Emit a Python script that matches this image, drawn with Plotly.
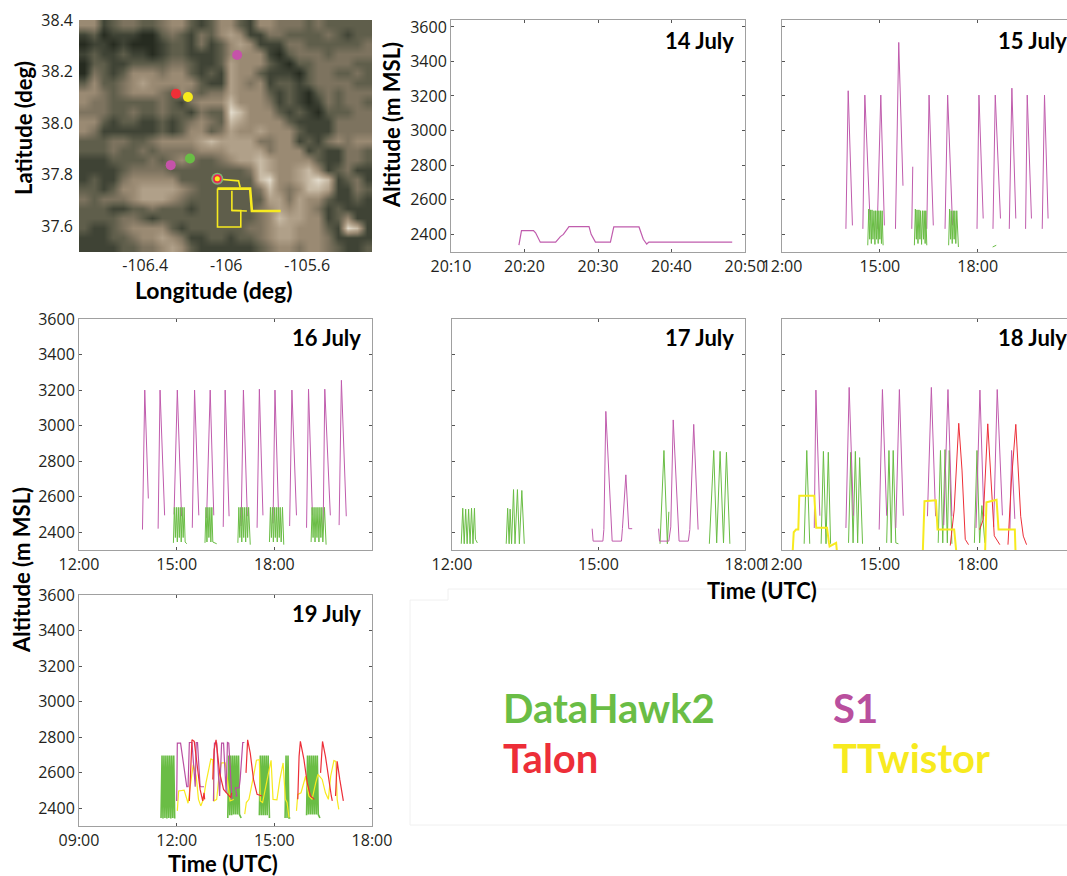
import plotly.graph_objects as go

W, H = 1067, 876
GREEN, RED, MAG, YEL = "#6abd45", "#ed2e38", "#c05cad", "#f7ea1f"
TICKFONT = "Open Sans"
BOLD = "Lato"

# ---------- map: hand-estimated brightness of the satellite image, one string per row, north first
map_rows = [
"552344334553235" "532554443433333",
"231222113432435" "652244333343233",
"122121112332423" "565222443333334",
"232232212332223" "555521344434444",
"133223333443223" "655532133444433",
"143235554553232" "655322213443343",
"353345655555322" "654523323444433",
"554345554354344" "655532321343444",
"544333334324555" "755542321243443",
"444334334332433" "875553232133344",
"553233223234543" "765555322224444",
"542222223235534" "655655532224444",
"333443345555676" "666445523245455",
"333433434444555" "666645552322443",
"222333343454334" "566765555322443",
"222234444333333" "334765567523422",
"232245555533333" "333785567872342",
"332355666654333" "333475457762243",
"434445666543333" "333366465532232",
"333223343332333" "333456565423222",
"333344323333333" "333457665523522",
"322345555323333" "334456655532872",
"222334556542233" "233456655542222",
"222233445653222" "222345545543223",
]
map_z = [[int(ch) for ch in row] for row in map_rows]
map_lon0, map_lon1 = -106.727, -105.28
map_lat0, map_lat1 = 37.5, 38.4
map_scale = [
    [0.0, "#1a1f16"], [0.111, "#262b20"], [0.222, "#3f4335"], [0.333, "#5f5e4b"],
    [0.444, "#7d735f"], [0.556, "#9a8a73"], [0.667, "#b0a089"], [0.778, "#c8bba6"],
    [0.889, "#e3dccd"], [1.0, "#f8f5ee"],
]

site_s1_lon = [-105.946, -106.274]
site_s1_lat = [38.264, 37.837]
site_talon_lon = [-106.248]
site_talon_lat = [38.114]
site_tt_lon = [-106.189]
site_tt_lat = [38.101]
site_dh_lon = [-106.179]
site_dh_lat = [37.863]
base_lon = [-106.044]
base_lat = [37.784]

track_thin_lon = [-106.016,-105.939,-105.931,None,-106.043,-106.043,-105.928,-105.928,-105.972,-105.972,None,-105.972,-105.898]
track_thin_lat = [37.781,37.776,37.750,None,37.746,37.597,37.597,37.661,37.661,37.738,None,37.661,37.659]
track_thick_lon = [-106.043,-105.882,-105.873,-105.731]
track_thick_lat = [37.746,37.746,37.659,37.659]

# ---------- 14 July (minutes after 20:00)
j14_s1_t = [19.24,19.59,21.22,21.51,22.15,24.24,24.88,25.29,26.05,28.78,29.07,29.65,31.69,32.15,35.58,36.16,36.63,36.92,48.26]
j14_s1_alt = [2336,2420,2420,2407,2353,2353,2385,2398,2443,2443,2398,2353,2353,2441,2441,2370,2342,2353,2353]

# ---------- 15 July (hours UTC)
j15_s1_t = [13.96,14.03,14.16,None,14.48,14.54,14.70,None,14.92,15.03,15.14,None,15.48,15.58,15.71,None,15.98,16.01,None,
            16.44,16.51,16.64,None,17.00,17.08,17.23,None,17.98,18.04,18.17,None,18.47,18.54,18.70,None,18.97,19.05,19.17,None,
            19.47,19.52,19.65,None,19.98,20.05,20.16]
j15_s1_alt = [2430,3230,2450,None,2430,3205,2480,None,2430,3205,2450,None,2430,3510,2680,None,2430,2790,None,
              2430,3205,2450,None,2430,3205,2450,None,2430,3205,2490,None,2430,3205,2490,None,2430,3245,2490,None,
              2430,3205,2490,None,2430,3205,2490]
j15_dh_t = [14.63,14.66,14.69,14.71,14.74,14.76,14.79,14.82,14.85,14.87,14.90,14.92,14.95,14.97,15.00,15.02,15.05,15.07,15.10,None,
            16.06,16.09,16.12,16.14,16.17,16.20,16.23,16.25,16.28,16.31,16.34,16.36,16.39,16.41,16.44,None,
            17.11,17.14,17.17,17.19,17.22,17.25,17.28,17.30,17.33,17.36,17.41,None,18.46,18.57]
j15_dh_alt = [2335,2545,2370,2540,2345,2540,2370,2535,2340,2535,2370,2535,2345,2535,2370,2535,2345,2535,2335,None,
              2335,2545,2370,2540,2345,2540,2370,2535,2340,2535,2370,2535,2345,2535,2335,None,
              2335,2545,2370,2535,2345,2535,2370,2535,2345,2535,2325,None,2325,2335]

# ---------- 16 July
j16_s1_t = [13.95,14.02,14.13,None,14.43,14.49,14.63,None,14.92,15.02,15.15,None,15.48,15.55,15.68,None,15.92,16.03,16.14,None,
            16.43,16.49,16.61,None,16.98,17.05,17.17,None,17.47,17.54,17.65,None,17.96,18.02,18.13,None,18.47,18.54,18.68,None,
            18.99,19.05,19.17,None,19.50,19.55,19.72,None,19.99,20.06,20.21]
j16_s1_alt = [2415,3200,2590,None,2420,3200,2495,None,2500,3200,2490,None,2425,3200,2495,None,2480,3200,2495,None,
              2430,3200,2490,None,2435,3200,2490,None,2425,3205,2495,None,2450,3200,2495,None,2435,3200,2495,None,
              2425,3205,2495,None,2425,3205,2495,None,2440,3255,2490]
j16_dh_t = [14.90,14.93,14.96,14.99,15.02,15.05,15.08,15.11,15.14,15.17,15.20,15.23,15.26,15.31,None,
            15.87,15.90,15.93,15.96,15.99,16.02,16.05,16.08,16.11,16.23,None,
            16.88,16.91,16.94,16.97,17.00,17.03,17.06,17.09,17.12,17.15,17.18,17.21,17.26,None,
            17.85,17.88,17.91,17.94,17.97,18.00,18.03,18.06,18.09,18.12,18.15,18.18,18.21,18.25,18.29,None,
            19.13,19.16,19.19,19.22,19.25,19.28,19.31,19.34,19.37,19.40,19.43,19.46,19.49,19.54,19.59]
j16_dh_alt = [2340,2540,2370,2540,2345,2540,2370,2540,2345,2540,2370,2540,2345,2335,None,
              2340,2540,2345,2540,2370,2540,2345,2540,2345,2335,None,
              2340,2540,2370,2540,2345,2540,2370,2540,2345,2540,2370,2540,2330,None,
              2345,2540,2370,2540,2345,2540,2370,2540,2345,2540,2370,2540,2345,2540,2330,None,
              2345,2540,2370,2540,2345,2540,2370,2540,2345,2540,2370,2540,2345,2540,2330]

# ---------- 17 July
j17_s1_t = [14.87,14.89,15.09,15.11,15.15,15.28,15.47,15.49,15.56,15.62,15.69,None,
            16.23,16.25,16.44,16.48,16.53,16.65,16.84,16.87,16.95,17.04]
j17_s1_alt = [2420,2350,2350,2415,3080,2350,2350,2420,2723,2420,2420,None,
              2420,2350,2350,2430,3032,2350,2350,2415,3007,2415]
j17_dh_t = [12.19,12.22,12.25,12.28,12.31,12.34,12.37,12.40,12.43,12.46,12.48,12.52,None,
            13.11,13.14,13.17,13.19,13.22,13.26,13.29,13.34,13.38,13.43,13.48,None,
            16.26,16.34,16.41,16.44,None,17.27,17.36,17.42,17.49,17.56,17.62,17.69]
j17_dh_alt = [2335,2535,2335,2530,2335,2530,2335,2535,2335,2535,2360,2340,None,
              2335,2535,2335,2530,2335,2640,2335,2640,2335,2635,2335,None,
              2335,2860,2335,2515,None,2335,2860,2340,2855,2340,2850,2335]

# ---------- 18 July
j18_s1_t = [12.99,13.04,13.16,None,13.96,14.06,14.19,None,14.98,15.08,15.21,None,15.49,15.60,15.72,None,
            16.46,16.58,16.71,None,16.96,17.09,17.21,None,17.95,18.07,18.19,None,18.49,18.60,18.76,None,18.99,19.04,19.14]
j18_s1_alt = [2424,3200,2493,None,2424,3215,2493,None,2415,3203,2493,None,2424,3203,2493,None,
              2490,3215,2490,None,2440,3203,2490,None,2424,3200,2490,None,2430,3203,2495,None,2415,2860,2475]
j18_dh_t = [12.68,12.76,12.85,None,13.20,13.27,13.35,13.42,13.49,None,14.04,14.11,14.18,14.25,14.32,14.38,14.47,None,
            15.21,15.28,15.35,15.41,15.49,15.57,None,16.79,16.86,16.93,17.00,17.07,17.13,17.21,None,
            17.90,17.98,18.06,18.13,18.22]
j18_dh_alt = [2335,2860,2335,None,2335,2855,2335,2850,2335,None,2340,2850,2340,2855,2340,2820,2335,None,
              2340,2860,2340,2860,2340,2335,None,2340,2860,2340,2865,2340,2860,2335,None,
              2340,2860,2340,2550,2340]
j18_tt_t = [12.33,12.36,12.43,12.50,12.53,12.99,13.05,13.38,13.44,13.46,13.66,13.68,None,
            16.32,16.37,16.72,16.77,17.28,17.34,None,18.23,18.27,18.58,18.64,19.14,19.16]
j18_tt_alt = [2300,2400,2415,2415,2605,2605,2425,2425,2340,2320,2340,2300,None,
              2300,2575,2580,2415,2415,2300,None,2300,2568,2583,2415,2415,2300]
j18_ta_t = [17.16,17.21,17.28,17.42,17.52,17.62,17.72,None,18.06,18.17,18.31,18.41,18.51,18.68,None,
            18.93,19.03,19.17,19.32,19.40,19.50]
j18_ta_alt = [2325,2405,2525,3013,2750,2360,2330,None,2415,2470,3010,2677,2380,2330,None,
              2330,2677,3007,2490,2378,2330]

# ---------- 19 July
j19_dh_t = [11.52,11.55,11.58,11.61,11.64,11.67,11.70,11.73,11.76,11.79,11.82,11.85,11.88,11.91,11.94,None,
            13.57,13.60,13.63,13.66,13.69,13.72,13.75,13.78,13.81,13.84,13.87,13.90,13.93,13.98,None,
            14.54,14.57,14.60,14.63,14.66,14.69,14.72,14.75,14.78,14.81,14.85,None,
            15.33,15.36,15.39,15.42,15.45,15.49,None,
            15.99,16.02,16.05,16.08,16.11,16.14,16.17,16.20,16.23,16.26,16.29,16.32,16.35,16.40]
j19_dh_alt = [2345,2696,2342,2696,2345,2696,2342,2696,2345,2696,2342,2696,2345,2696,2342,None,
              2345,2696,2360,2696,2360,2696,2365,2696,2365,2696,2365,2696,2365,2345,None,
              2360,2696,2360,2696,2360,2696,2360,2696,2360,2696,2345,None,
              2345,2696,2345,2696,2345,2345,None,
              2360,2696,2365,2696,2365,2696,2365,2696,2365,2696,2365,2696,2365,2345]
j19_s1_t = [12.00,12.02,12.12,12.26,12.31,12.35,12.39,12.47,12.57,12.60,12.64,12.72,12.84,None,
            13.13,13.16,13.23,13.32,13.38,13.44,13.52,13.56,13.60,13.70,None,
            13.80,13.85,13.80,13.85,13.92,13.95,14.03,14.08]
j19_s1_alt = [2441,2766,2766,2562,2521,2521,2770,2770,2521,2770,2770,2521,2521,None,
              2441,2766,2766,2469,2766,2766,2487,2770,2766,2450,None,
              2469,2469,2515,2515,2515,2562,2770,2770]
j19_tt_t = [12.02,12.06,12.23,12.31,12.35,12.43,12.51,12.60,12.67,12.74,12.82,12.90,12.98,13.05,13.11,13.15,13.23,13.29,13.37,13.49,13.56,13.64,13.75,None,
            14.09,14.14,14.22,14.31,14.38,14.45,14.54,14.57,14.64,14.72,14.80,14.90,14.96,15.08,15.17,15.27,15.34,15.39,15.45,None,
            15.68,15.72,15.82,15.96,16.06,16.16,16.27,16.34,16.47,16.57,16.66,16.73,16.83,16.89,16.93,16.98]
j19_tt_alt = [2385,2497,2502,2450,2428,2543,2646,2580,2450,2413,2450,2543,2618,2677,2673,2441,2450,2562,2655,2655,2562,2441,2450,None,
              2367,2432,2450,2525,2599,2670,2673,2441,2432,2506,2580,2670,2450,2447,2562,2655,2450,2432,2348,None,
              2385,2478,2487,2580,2469,2450,2543,2590,2562,2487,2450,2580,2668,2664,2450,2394]
j19_ta_t = [12.39,12.43,12.47,12.54,12.62,12.72,12.80,12.84,12.86,None,13.11,13.15,13.21,13.32,13.44,13.57,13.66,13.69,None,
            14.13,14.18,14.26,14.36,14.47,14.62,None,15.72,15.76,15.80,15.91,16.01,16.11,16.23,None,
            16.42,16.48,16.57,16.68,16.75,16.78,None,16.88,16.93,17.01,17.12]
j19_ta_alt = [2441,2673,2785,2776,2655,2506,2441,2487,2450,None,2562,2729,2785,2599,2506,2478,2460,2487,None,
              2599,2785,2711,2562,2478,2469,None,2450,2692,2776,2673,2543,2469,2450,None,
              2599,2776,2692,2543,2469,2441,None,2469,2664,2562,2441]

alt_ticks = [2400, 2600, 2800, 3000, 3200, 3400, 3600]
legend_names = ["DataHawk2", "Talon", "S1", "TTwistor"]


def px_x(l, r):
    return [l / W, min(r / W, 1.0)]


def px_y(t, b):
    return [1 - b / H, 1 - t / H]


fig = go.Figure()
layout = dict(width=W, height=H, margin=dict(l=0, r=0, t=0, b=0), autosize=False,
              paper_bgcolor="white", plot_bgcolor="white", showlegend=False,
              font=dict(family=TICKFONT, size=16, color="#231f20"))

panels = {
    "14": (451, 745, 20, 252, [10, 50], [10, 20, 30, 40, 50], ["20:10", "20:20", "20:30", "20:40", "20:50"], [2296, 3640], True, True),
    "15": (782, 1067, 20, 252, [12, 20.74], [12, 15, 18], ["12:00", "15:00", "18:00"], [2296, 3640], False, False),
    "16": (79, 372, 319, 550, [12, 21], [12, 15, 18], ["12:00", "15:00", "18:00"], [2300, 3600], True, True),
    "17": (452, 745, 319, 550, [12, 18], [12, 15, 18], ["12:00", "15:00", "18:00"], [2300, 3600], False, True),
    "18": (782, 1067, 319, 550, [12, 20.74], [12, 15, 18], ["12:00", "15:00", "18:00"], [2300, 3600], False, False),
    "19": (79, 372, 595, 826, [9, 18], [9, 12, 15, 18], ["09:00", "12:00", "15:00", "18:00"], [2300, 3600], True, True),
}

series = {
    "14": [(j14_s1_t, j14_s1_alt, MAG, 1.2)],
    "15": [(j15_s1_t, j15_s1_alt, MAG, 1), (j15_dh_t, j15_dh_alt, GREEN, 1)],
    "16": [(j16_s1_t, j16_s1_alt, MAG, 1), (j16_dh_t, j16_dh_alt, GREEN, 1)],
    "17": [(j17_dh_t, j17_dh_alt, GREEN, 1), (j17_s1_t, j17_s1_alt, MAG, 1)],
    "18": [(j18_dh_t, j18_dh_alt, GREEN, 1), (j18_s1_t, j18_s1_alt, MAG, 1),
           (j18_ta_t, j18_ta_alt, RED, 1), (j18_tt_t, j18_tt_alt, YEL, 2)],
    "19": [(j19_dh_t, j19_dh_alt, GREEN, 1.6), (j19_tt_t, j19_tt_alt, YEL, 1.2),
           (j19_s1_t, j19_s1_alt, "#b94fa2", 1.2), (j19_ta_t, j19_ta_alt, RED, 1.2)],
}

layout["xaxis"] = dict(domain=px_x(79, 372), range=[map_lon0, map_lon1], tickvals=[-106.4, -106, -105.6],
                       ticktext=["-106.4", "-106", "-105.6"], ticks="", showgrid=False, zeroline=False, showline=False,
                       anchor="y", automargin=False, ticklabelstandoff=2, tickfont=dict(size=16, family=TICKFONT))
layout["yaxis"] = dict(domain=px_y(20, 252), range=[map_lat0, map_lat1], tickvals=[37.6, 37.8, 38.0, 38.2, 38.4],
                       ticktext=["37.6", "37.8", "38.0", "38.2", "38.4"], ticks="", showgrid=False, zeroline=False, showline=False,
                       anchor="x", automargin=False, ticklabelstandoff=5, tickfont=dict(size=16, family=TICKFONT))

dlon = (map_lon1 - map_lon0) / len(map_z[0])
dlat = (map_lat1 - map_lat0) / len(map_z)
fig.add_trace(go.Heatmap(z=map_z[::-1], x0=map_lon0 + dlon / 2, dx=dlon, y0=map_lat0 + dlat / 2, dy=dlat,
                         colorscale=map_scale, zmin=0, zmax=9, showscale=False, zsmooth="best",
                         hoverinfo="skip", xaxis="x", yaxis="y"))
fig.add_trace(go.Scatter(x=track_thin_lon, y=track_thin_lat, mode="lines", line=dict(color=YEL, width=1.6), xaxis="x", yaxis="y"))
fig.add_trace(go.Scatter(x=track_thick_lon, y=track_thick_lat, mode="lines", line=dict(color=YEL, width=2.6), xaxis="x", yaxis="y"))
for lon, lat, col, size in [
    (site_s1_lon, site_s1_lat, "#c553a9", 10),
    (site_talon_lon, site_talon_lat, "#f02f37", 10),
    (site_tt_lon, site_tt_lat, "#f6ea1c", 10),
    (site_dh_lon, site_dh_lat, "#69bd45", 10),
    (base_lon, base_lat, "#7dbb6c", 12),
    (base_lon, base_lat, "#c9509f", 9.5),
    (base_lon, base_lat, "#ed2e38", 8),
    (base_lon, base_lat, "#f7ea1f", 5),
]:
    fig.add_trace(go.Scatter(x=lon, y=lat, mode="markers", marker=dict(color=col, size=size, line=dict(width=0)),
                             xaxis="x", yaxis="y"))

for i, (key, p) in enumerate(panels.items()):
    n = i + 2
    l, r, t, b, xr, xv, xt, yr, ylab, rb = p
    layout[f"xaxis{n}"] = dict(domain=px_x(l, r), range=xr, tickvals=xv, ticktext=xt, ticks="inside", ticklen=3,
                               tickcolor="#555", tickwidth=1, showline=True, linecolor="#a0a0a0", linewidth=1,
                               mirror="ticks", showgrid=False, zeroline=False, anchor=f"y{n}", automargin=False,
                               tickfont=dict(size=16, family=TICKFONT))
    layout[f"yaxis{n}"] = dict(domain=px_y(t, b), range=yr, tickvals=alt_ticks, ticks="inside", ticklen=3,
                               tickcolor="#555", tickwidth=1, showline=True, linecolor="#a0a0a0", linewidth=1,
                               mirror="ticks" if rb else False, showgrid=False, zeroline=False, anchor=f"x{n}",
                               automargin=False, showticklabels=ylab, tickfont=dict(size=16, family=TICKFONT))
    for xs, ys, col, w in series[key]:
        fig.add_trace(go.Scatter(x=xs, y=ys, mode="lines", line=dict(color=col, width=w),
                                 connectgaps=False, xaxis=f"x{n}", yaxis=f"y{n}"))


def note(text, x, y, size, color="#000000", anchor="center", angle=0):
    return dict(text=f"<b>{text}</b>", x=x / W, y=1 - y / H, xref="paper", yref="paper",
                showarrow=False, xanchor=anchor, yanchor="middle", textangle=angle,
                font=dict(size=size, color=color, family=BOLD))


layout["annotations"] = [
    note("14 July", 736, 40, 22, anchor="right"),
    note("15 July", 996, 40, 22, anchor="left"),
    note("16 July", 363, 337, 22, anchor="right"),
    note("17 July", 736, 337, 22, anchor="right"),
    note("18 July", 996, 337, 22, anchor="left"),
    note("19 July", 363, 613, 22, anchor="right"),
    note("Latitude (deg)", 23, 128, 22, angle=-90),
    note("Longitude (deg)", 214, 290, 23),
    note("Altitude (m MSL)", 392, 125, 22, angle=-90),
    note("Altitude (m MSL)", 21, 570, 22, angle=-90),
    note("Time (UTC)", 762, 590, 22),
    note("Time (UTC)", 223, 863, 22),
    note(legend_names[0], 501, 708, 40, GREEN, "left"),
    note(legend_names[1], 501, 758, 40, RED, "left"),
    note(legend_names[2], 831, 708, 40, "#b94f9e", "left"),
    note(legend_names[3], 831, 758, 40, YEL, "left"),
]


def faint(x0, y0, x1, y1):
    return dict(type="line", xref="paper", yref="paper", x0=x0 / W, x1=x1 / W, y0=1 - y0 / H, y1=1 - y1 / H,
                line=dict(color="#f0f0f0", width=1))


layout["shapes"] = [faint(448, 589, 1067, 589), faint(448, 589, 448, 600), faint(410, 600, 448, 600),
                    faint(410, 600, 410, 825), faint(410, 825, 1067, 825)]

fig.update_layout(**layout)
fig.write_html("out.html", config={"displayModeBar": False},
               post_script="document.body.style.margin='0';document.documentElement.style.overflow='hidden';")
